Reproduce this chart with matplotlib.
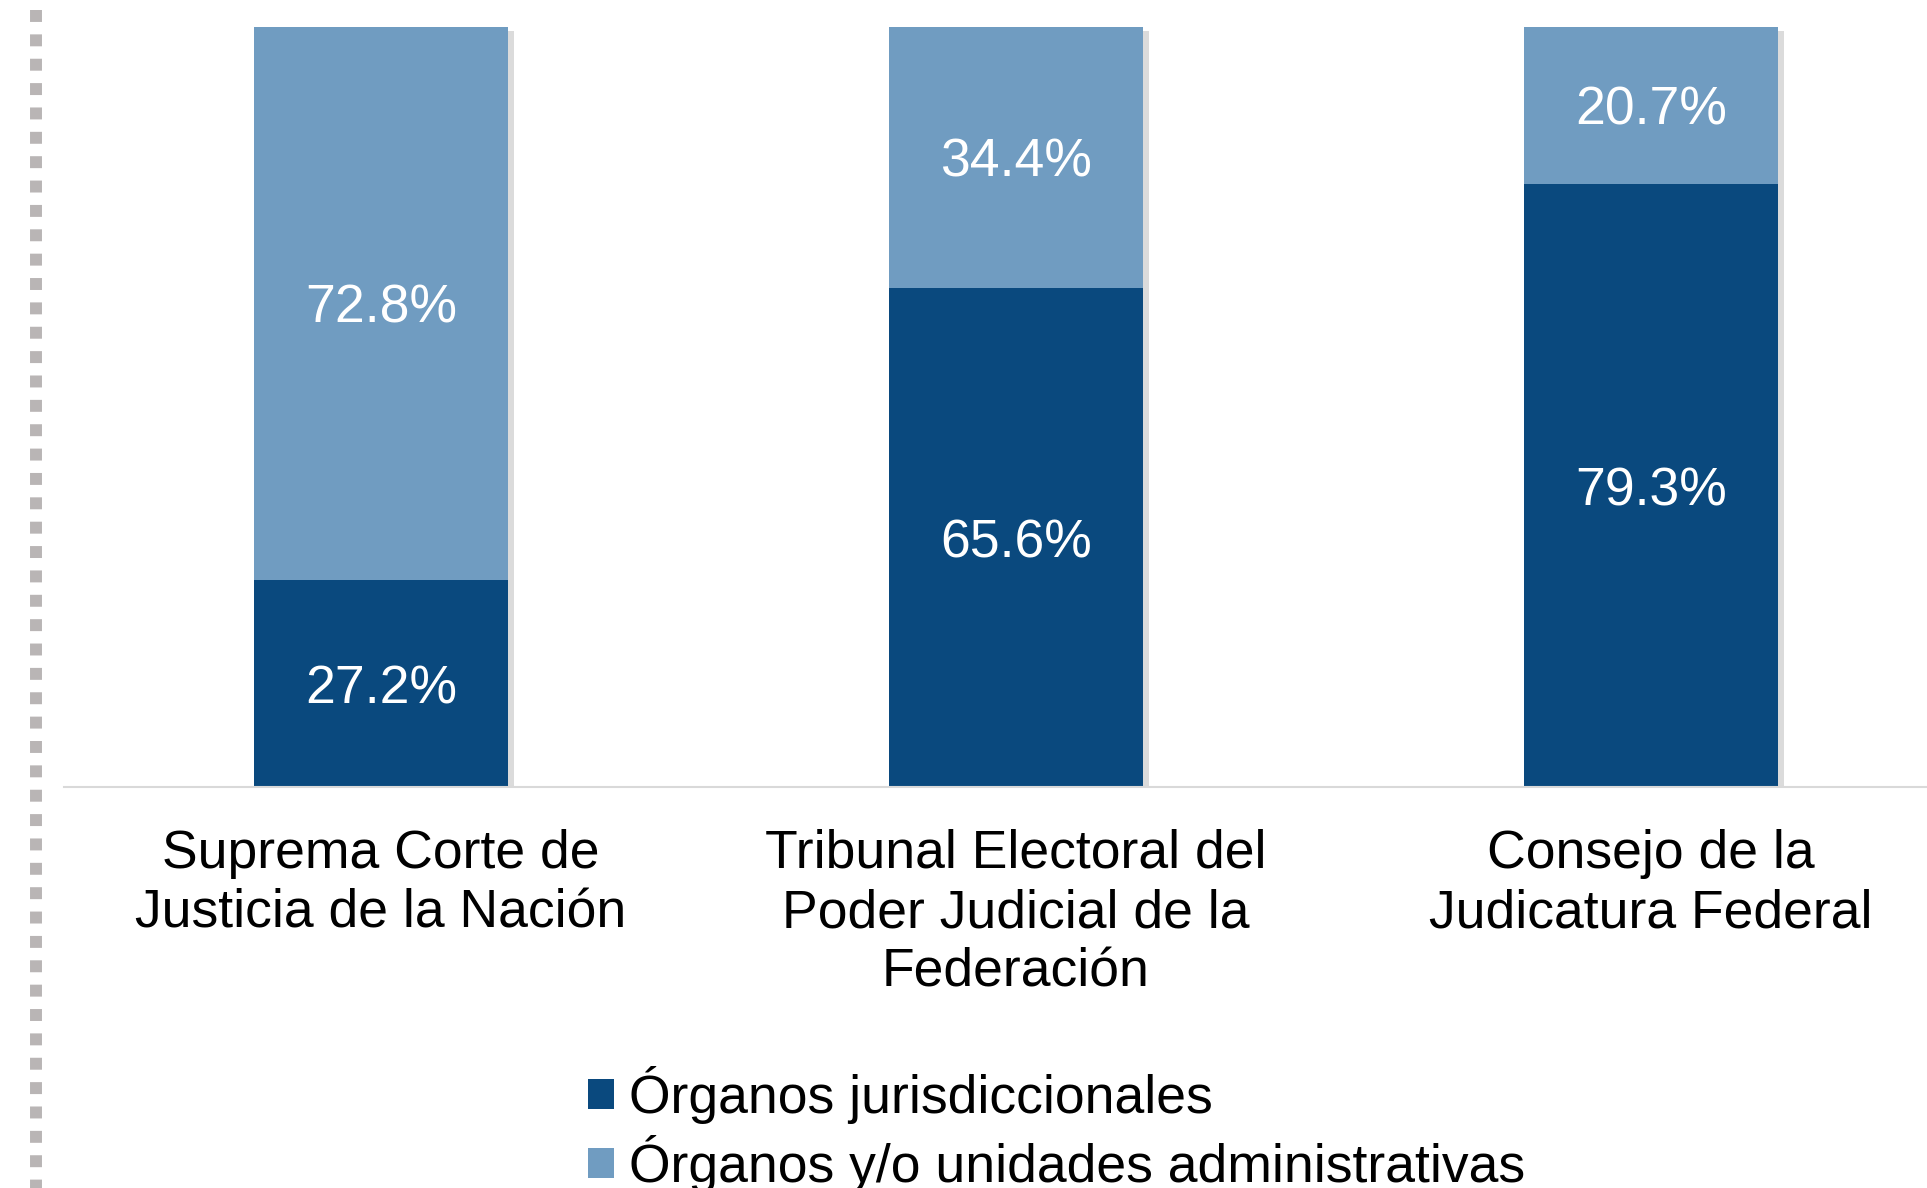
import numpy as np
import matplotlib
matplotlib.use("Agg")
import matplotlib.pyplot as plt
import matplotlib.patheffects as pe
from matplotlib.lines import Line2D
from matplotlib.patches import Patch

plt.rcParams["font.family"] = ["Liberation Sans", "DejaVu Sans"]

categories = [
    "Suprema Corte de\nJusticia de la Nación",
    "Tribunal Electoral del\nPoder Judicial de la\nFederación",
    "Consejo de la\nJudicatura Federal",
]
jurisdiccionales = [27.2, 65.6, 79.3]
administrativas = [72.8, 34.4, 20.7]
series_names = ["Órganos jurisdiccionales", "Órganos y/o unidades administrativas"]

dark = "#0A497E"
light = "#709CC1"
fs = 38.5

fig = plt.figure(figsize=(19.27, 11.88), dpi=100)
ax = fig.add_axes([63.5 / 1927, 1 - 787 / 1188, 1905 / 1927, 760.5 / 1188])

x = np.arange(len(categories))
shadow = [pe.SimplePatchShadow(offset=(4, -3), shadow_rgbFace="#999999", alpha=0.35), pe.Normal()]
# dark segment drawn over the light one so the light shadow does not show on the seam
b1 = ax.bar(x, jurisdiccionales, width=0.4, color=dark, zorder=2.5)
b2 = ax.bar(x, administrativas, width=0.4, bottom=jurisdiccionales, color=light, zorder=2)
for r in list(b1) + list(b2):
    r.set_path_effects(shadow)

for i in range(len(categories)):
    ax.annotate(f"{jurisdiccionales[i]:.1f}%", (x[i], jurisdiccionales[i] / 2),
                xytext=(0, -4), textcoords="offset points",
                ha="center", va="center", color="white", fontsize=fs, zorder=3)
    ax.annotate(f"{administrativas[i]:.1f}%", (x[i], jurisdiccionales[i] + administrativas[i] / 2),
                xytext=(0, -4), textcoords="offset points",
                ha="center", va="center", color="white", fontsize=fs, zorder=3)

ax.set_xlim(-0.5, 2.5)
ax.set_ylim(0, 100)
ax.set_yticks([])
ax.set_xticks(x)
ax.set_xticklabels(categories, fontsize=fs, linespacing=1.24)
ax.tick_params(axis="x", length=0, pad=30)
for s in ["top", "left", "right"]:
    ax.spines[s].set_visible(False)
ax.spines["bottom"].set_color("#d9d9d9")
ax.spines["bottom"].set_linewidth(1.5)

# dotted border on the left
fig.add_artist(Line2D([36 / 1927, 36 / 1927], [1 - 10 / 1188, 0], transform=fig.transFigure,
                      color="#b9b5b5", lw=8.6, dashes=(1, 1.04), solid_capstyle="butt",
                      dash_capstyle="butt"))

handles = [Patch(facecolor=dark), Patch(facecolor=light)]
fig.legend(handles, series_names, loc="upper left", bbox_to_anchor=(588 / 1927, 1 - 1066 / 1188),
           frameon=False, fontsize=fs, handlelength=0.48, handleheight=0.48,
           handletextpad=0.28, borderpad=0, borderaxespad=0, labelspacing=0.2)

fig.savefig("out.png", dpi=100)
